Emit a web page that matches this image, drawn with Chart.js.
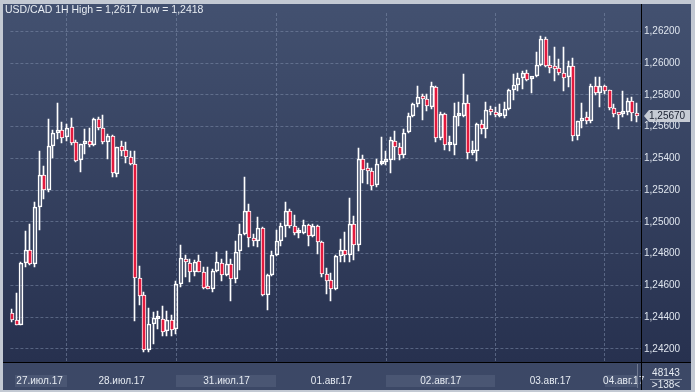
<!DOCTYPE html>
<html>
<head>
<meta charset="utf-8">
<script src="https://cdn.jsdelivr.net/npm/chart.js@4.4.1/dist/chart.umd.min.js"></script>
<style>
  html, body { margin: 0; padding: 0; background: #c3c9d3; overflow: hidden; }
  #wrap { position: absolute; left: 3px; top: 4px; width: 688px; height: 386px; }
</style>
</head>
<body>
<div id="wrap"><canvas id="myChart" width="688" height="386"></canvas></div>
<script>
// USD/CAD 1H candles
const openPrices = [
  1.24427,1.24380,1.24353,1.24740,1.24822,1.24734,1.25092,1.25295,1.25200,1.25479,
  1.25558,1.25580,1.25536,1.25601,1.25503,1.25393,1.25493,1.25509,1.25487,1.25648,
  1.25591,1.25503,1.25540,1.25301,1.25479,1.25454,1.25407,1.25368,1.24648,1.24538,
  1.24196,1.24356,1.24387,1.24387,1.24315,1.24380,1.24325,1.24607,1.24764,1.24744,
  1.24687,1.24755,1.24687,1.24591,1.24580,1.24693,1.24742,1.24663,1.24738,1.24638,
  1.24816,1.24922,1.25068,1.24902,1.24877,1.24965,1.24540,1.24666,1.24791,1.24877,
  1.24977,1.25068,1.24973,1.24930,1.24928,1.24982,1.24912,1.24976,1.24871,1.24672,
  1.24632,1.24577,1.24785,1.24822,1.24795,1.24984,1.24853,1.25399,1.25331,1.25319,
  1.25231,1.25368,1.25376,1.25393,1.25511,1.25474,1.25423,1.25564,1.25669,1.25746,
  1.25791,1.25773,1.25722,1.25853,1.25531,1.25679,1.25485,1.25485,1.25669,1.25669,
  1.25752,1.25436,1.25444,1.25620,1.25587,1.25714,1.25693,1.25669,1.25669,1.25712,
  1.25828,1.25865,1.25906,1.25936,1.25902,1.25920,1.25988,1.26153,1.25979,1.25976,
  1.25971,1.25939,1.25910,1.25982,1.25542,1.25638,1.25664,1.25638,1.25859,1.25810,
  1.25859,1.25828,1.25720,1.25687,1.25679,1.25691,1.25763,1.25689
];
const highPrices = [
  1.24450,1.24554,1.24750,1.24945,1.24984,1.25123,1.25450,1.25352,1.25646,1.25579,
  1.25750,1.25628,1.25617,1.25654,1.25515,1.25491,1.25583,1.25589,1.25654,1.25658,
  1.25671,1.25556,1.25546,1.25474,1.25507,1.25505,1.25445,1.25450,1.24724,1.24558,
  1.24456,1.24433,1.24437,1.24468,1.24437,1.24411,1.24626,1.24853,1.24793,1.24764,
  1.24761,1.24791,1.24718,1.24714,1.24703,1.24812,1.24764,1.24816,1.24764,1.24877,
  1.24985,1.25284,1.25112,1.24924,1.25034,1.24969,1.24672,1.24816,1.24951,1.24994,
  1.25123,1.25082,1.25041,1.24959,1.25014,1.24990,1.24985,1.24979,1.24877,1.24709,
  1.24679,1.24789,1.24891,1.24934,1.25149,1.25037,1.25468,1.25423,1.25370,1.25337,
  1.25395,1.25537,1.25450,1.25536,1.25572,1.25495,1.25583,1.25685,1.25750,1.25859,
  1.25804,1.25807,1.25883,1.25856,1.25695,1.25685,1.25542,1.25750,1.25757,1.25930,
  1.25798,1.25511,1.25623,1.25644,1.25757,1.25730,1.25726,1.25742,1.25755,1.25838,
  1.25934,1.25936,1.25951,1.25955,1.25914,1.26069,1.26170,1.26166,1.26043,1.26100,
  1.26028,1.26100,1.26014,1.26033,1.25638,1.25750,1.25695,1.25869,1.25910,1.25910,
  1.25865,1.25830,1.25742,1.25689,1.25824,1.25783,1.25787,1.25750
];
const lowPrices = [
  1.24370,1.24350,1.24350,1.24718,1.24729,1.24714,1.24949,1.25143,1.25188,1.25402,
  1.25525,1.25495,1.25511,1.25482,1.25378,1.25317,1.25425,1.25474,1.25480,1.25580,
  1.25491,1.25395,1.25280,1.25280,1.25417,1.25372,1.25360,1.24378,1.24476,1.24180,
  1.24184,1.24233,1.24325,1.24284,1.24284,1.24284,1.24295,1.24591,1.24652,1.24622,
  1.24658,1.24683,1.24580,1.24577,1.24560,1.24683,1.24626,1.24657,1.24503,1.24615,
  1.24697,1.24918,1.24842,1.24847,1.24841,1.24536,1.24445,1.24658,1.24785,1.24847,
  1.24908,1.24965,1.24918,1.24898,1.24922,1.24850,1.24904,1.24801,1.24652,1.24544,
  1.24503,1.24571,1.24749,1.24749,1.24749,1.24761,1.24816,1.25245,1.25239,1.25204,
  1.25223,1.25358,1.25358,1.25310,1.25388,1.25388,1.25402,1.25558,1.25664,1.25726,
  1.25644,1.25701,1.25714,1.25501,1.25517,1.25454,1.25450,1.25423,1.25607,1.25664,
  1.25399,1.25423,1.25382,1.25554,1.25530,1.25675,1.25660,1.25660,1.25654,1.25706,
  1.25767,1.25824,1.25838,1.25885,1.25814,1.25914,1.25982,1.25976,1.25941,1.25890,
  1.25924,1.25822,1.25849,1.25511,1.25517,1.25591,1.25620,1.25623,1.25801,1.25726,
  1.25807,1.25706,1.25664,1.25583,1.25664,1.25675,1.25634,1.25628
];
const closePrices = [
  1.24380,1.24353,1.24744,1.24822,1.24734,1.25092,1.25295,1.25204,1.25479,1.25560,
  1.25577,1.25530,1.25593,1.25495,1.25384,1.25491,1.25503,1.25487,1.25650,1.25589,
  1.25501,1.25540,1.25307,1.25474,1.25448,1.25409,1.25368,1.24644,1.24534,1.24196,
  1.24356,1.24393,1.24393,1.24304,1.24380,1.24319,1.24611,1.24775,1.24749,1.24687,
  1.24750,1.24687,1.24587,1.24579,1.24693,1.24750,1.24663,1.24738,1.24638,1.24810,
  1.24922,1.25068,1.24902,1.24877,1.24961,1.24540,1.24666,1.24791,1.24877,1.24977,
  1.25068,1.24973,1.24933,1.24933,1.24982,1.24912,1.24976,1.24871,1.24672,1.24626,
  1.24577,1.24785,1.24822,1.24795,1.24984,1.24857,1.25399,1.25325,1.25319,1.25229,
  1.25368,1.25374,1.25388,1.25517,1.25470,1.25423,1.25558,1.25669,1.25746,1.25785,
  1.25773,1.25730,1.25859,1.25528,1.25679,1.25485,1.25491,1.25669,1.25672,1.25752,
  1.25436,1.25448,1.25620,1.25587,1.25706,1.25693,1.25675,1.25675,1.25712,1.25828,
  1.25865,1.25906,1.25936,1.25896,1.25914,1.25988,1.26153,1.25982,1.25971,1.25963,
  1.25939,1.25908,1.25982,1.25542,1.25638,1.25657,1.25638,1.25859,1.25810,1.25859,
  1.25826,1.25715,1.25681,1.25675,1.25695,1.25763,1.25685,1.25670
];

// day boundaries (bar index of 00:00) and day labels
const dayStarts = [12, 36, 58, 82, 106, 130];
const dayLabels = ['27.июл.17', '28.июл.17', '31.июл.17', '01.авг.17', '02.авг.17', '03.авг.17', '04.авг.17'];
const dayLabelPos = [6, 24, 47, 70, 94, 118, 134.1];
const yTicks = [1.242, 1.244, 1.246, 1.248, 1.250, 1.252, 1.254, 1.256, 1.258, 1.260, 1.262];

const RED = '#e31a3e';
const FONT = 'Liberation Sans, Arial, sans-serif';

const idx = openPrices.map((v, i) => i);
const bodyTop = idx.map(i => Math.max(openPrices[i], closePrices[i]));
const bodyBot = idx.map(i => Math.min(openPrices[i], closePrices[i]));
const isDown = idx.map(i => closePrices[i] < openPrices[i]);

const fmt = v => v.toFixed(5).replace('.', ',');

// snap candle elements to whole pixels so they render crisp like the terminal
const snapPlugin = {
  id: 'snap',
  beforeDatasetsDraw(chart) {
    chart.data.datasets.forEach((ds, di) => {
      const meta = chart.getDatasetMeta(di);
      meta.data.forEach(el => {
        const cx = Math.round(el.x);
        el.x = ds.label === 'body' ? cx : cx - 0.5;
        el.y = Math.round(el.y);
        el.base = Math.round(el.base);
        if (ds.label === 'body' && Math.abs(el.base - el.y) < 2) el.base = el.y + 2;
      });
    });
  }
};

const framePlugin = {
  id: 'frame',
  beforeDraw(chart) {
    const {ctx, chartArea, width, height} = chart;
    const x = chart.scales.x;
    const g = ctx.createLinearGradient(0, 0, 0, chartArea.bottom);
    g.addColorStop(0, '#435170');
    g.addColorStop(1, '#27314f');
    ctx.save();
    ctx.fillStyle = g;
    ctx.fillRect(0, 0, width, chartArea.bottom);
    ctx.fillStyle = '#3c4866';
    ctx.fillRect(0, chartArea.bottom, width, height - chartArea.bottom);
    // shaded label boxes for every other day
    ctx.fillStyle = '#4a5673';
    const by = chartArea.bottom + 13, bh = 12;
    const edges = [chartArea.left + 5].concat(dayStarts.map(v => x.getPixelForValue(v)), [x.getPixelForValue(137)]);
    for (let d = 0; d < edges.length - 1; d += 2) {
      ctx.fillRect(Math.round(edges[d]), by, Math.round(edges[d + 1] - edges[d]), bh);
    }
    ctx.restore();
  },
  afterDraw(chart) {
    const {ctx, chartArea, width, height} = chart;
    const x = chart.scales.x, y = chart.scales.y;
    ctx.save();
    // axis lines
    ctx.strokeStyle = '#000';
    ctx.lineWidth = 1;
    ctx.beginPath();
    ctx.moveTo(Math.round(chartArea.right) + 0.5, 0);
    ctx.lineTo(Math.round(chartArea.right) + 0.5, height);
    ctx.moveTo(0, Math.round(chartArea.bottom) + 0.5);
    ctx.lineTo(width, Math.round(chartArea.bottom) + 0.5);
    ctx.stroke();
    // current bar marker in time strip
    const lx = Math.round(x.getPixelForValue(137)) + 0.5;
    ctx.strokeStyle = '#6e7890';
    ctx.beginPath();
    ctx.moveTo(lx, chartArea.bottom + 2);
    ctx.lineTo(lx, height - 2);
    ctx.stroke();

    // title
    ctx.fillStyle = '#e8edf3';
    ctx.font = '10.5px ' + FONT;
    ctx.textBaseline = 'middle';
    ctx.textAlign = 'left';
    ctx.fillText('USD/CAD 1H High = 1,2617 Low = 1,2418', 2, 6);

    // last price tag
    const last = closePrices[closePrices.length - 1];
    const py = Math.round(y.getPixelForValue(last));
    const tx = chartArea.right + 3;
    ctx.fillStyle = '#c6cbd4';
    ctx.beginPath();
    ctx.moveTo(tx, py);
    ctx.lineTo(tx + 5, py - 6);
    ctx.lineTo(width - 1, py - 6);
    ctx.lineTo(width - 1, py + 6);
    ctx.lineTo(tx + 5, py + 6);
    ctx.closePath();
    ctx.fill();
    ctx.fillStyle = '#1b2130';
    ctx.font = '10px ' + FONT;
    ctx.fillText(fmt(last), tx + 5, py + 0.5);

    // corner box
    const cx = (chartArea.right + width) / 2;
    ctx.fillStyle = '#e6ebf2';
    ctx.textAlign = 'center';
    ctx.fillText('48143', cx, chartArea.bottom + 11);
    ctx.fillText('>138<', cx, chartArea.bottom + 23);
    ctx.strokeStyle = '#8e97aa';
    ctx.beginPath();
    ctx.moveTo(cx - 16, chartArea.bottom + 17.5);
    ctx.lineTo(cx + 16, chartArea.bottom + 17.5);
    ctx.stroke();
    ctx.restore();
  }
};

const ctx = document.getElementById('myChart');
new Chart(ctx, {
  type: 'bar',
  data: {
    datasets: [{
      label: 'body',
      data: idx.map(i => ({x: i, y: [bodyBot[i], bodyTop[i]]})),
      backgroundColor: isDown.map(d => d ? RED : 'rgba(0,0,0,0)'),
      borderColor: '#ffffff',
      borderWidth: 1,
      borderSkipped: false,
      barThickness: 4,
      minBarLength: 3,
      grouped: false
    }, {
      label: 'upper wick',
      data: idx.map(i => ({x: i, y: [bodyTop[i], highPrices[i]]})),
      backgroundColor: '#ffffff',
      borderWidth: 0,
      barThickness: 1,
      grouped: false
    }, {
      label: 'lower wick',
      data: idx.map(i => ({x: i, y: [lowPrices[i], bodyBot[i]]})),
      backgroundColor: '#ffffff',
      borderWidth: 0,
      barThickness: 1,
      grouped: false
    }]
  },
  options: {
    responsive: false,
    animation: false,
    layout: { padding: 0 },
    plugins: {
      legend: { display: false },
      tooltip: { enabled: false }
    },
    scales: {
      x: {
        type: 'linear',
        position: 'top',
        offset: false,
        min: -0.4,
        max: 137.9,
        afterBuildTicks: s => { s.ticks = dayStarts.map(v => ({value: v})); },
        afterFit: s => { s.height = 0; },
        ticks: { display: false },
        grid: { color: 'rgba(125,140,170,0.55)', drawTicks: false, offset: false },
        border: { display: false, dash: [3, 2] }
      },
      x2: {
        type: 'linear',
        position: 'bottom',
        offset: false,
        min: -0.4,
        max: 137.9,
        afterBuildTicks: s => { s.ticks = dayLabelPos.map(v => ({value: v})); },
        afterFit: s => { s.height = 28; },
        ticks: {
          autoSkip: false,
          maxRotation: 0,
          padding: 13,
          color: '#e6ebf2',
          font: { size: 10, family: FONT },
          callback: (v, i) => dayLabels[i]
        },
        grid: { display: false, drawTicks: false, offset: false },
        border: { display: false }
      },
      y: {
        position: 'right',
        min: 1.24118,
        max: 1.26316,
        afterBuildTicks: s => { s.ticks = yTicks.map(v => ({value: v})); },
        afterFit: s => { s.width = 50; },
        ticks: {
          padding: 3,
          color: '#dfe5ee',
          font: { size: 10, family: FONT },
          callback: v => fmt(v)
        },
        grid: { color: 'rgba(125,140,170,0.55)', drawTicks: false },
        border: { display: false, dash: [3, 2] }
      }
    }
  },
  plugins: [snapPlugin, framePlugin]
});
</script>
</body>
</html>
